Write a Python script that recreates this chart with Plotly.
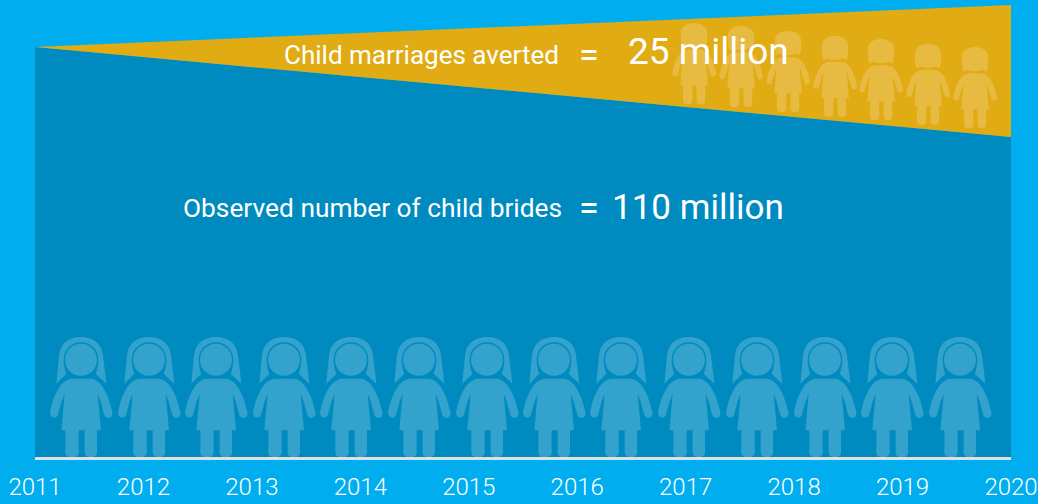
import plotly.graph_objects as go

# --- data ---
years = [2011, 2020]
tick_years = [2011, 2012, 2013, 2014, 2015, 2016, 2017, 2018, 2019, 2020]
observed = [100.0, 78.05]      # top of blue area (2011 = 100)
expected = [100.0, 110.24]     # top of gold area (2011 = 100)
label_averted = "Child marriages averted"
label_observed = "Observed number of child brides"
value_averted = "25 million"
value_observed = "110 million"

# --- layout constants ---
W, H = 1038, 504
L, R, BASE = 35, 1011, 457
PW, PH = R - L, BASE
BG, BLUE, GOLD = "#00AEEF", "#008BC0", "#E1AB13"
FIG = "rgba(255,255,255,0.2)"
FONT = "Roboto"

bride_x = [81, 149, 216, 284, 351, 419, 487, 554, 621, 689, 757, 825, 892, 960]
girl_pos = [(694, 104), (741, 107), (788, 112), (835, 116.7), (881, 120), (928, 124.7), (975, 128)]

def px(x): return (x - L) / PW
def py(y): return (BASE - y) / PH

def build(cmds, ox, oy, s):
    out = []
    for c in cmds:
        if c[0] == "Z":
            out.append("Z")
            continue
        pts = " ".join(f"{s*(x-ox)/3:.2f},{s*(oy-y)/3:.2f}" for x, y in c[1:])
        out.append(c[0] + pts)
    return " ".join(out)

BODY = [
    ("M", (125, 175)), ("L", (180, 175)),
    ("C", (215, 178), (235, 225), (246, 275)),
    ("C", (250, 295), (226, 298), (222, 283)),
    ("C", (215, 260), (210, 235), (202, 222)),
    ("L", (212, 330)), ("L", (200, 330)), ("L", (200, 398)),
    ("C", (200, 415), (163, 415), (163, 398)),
    ("L", (163, 330)), ("L", (145, 330)), ("L", (145, 398)),
    ("C", (145, 415), (105, 415), (105, 398)),
    ("L", (105, 330)), ("L", (93, 330)), ("L", (103, 222)),
    ("C", (95, 235), (90, 260), (83, 283)),
    ("C", (78, 298), (55, 293), (60, 272)),
    ("C", (70, 225), (90, 178), (125, 175)), ("Z",),
]
HEAD = [
    ("M", (104, 118)),
    ("C", (104, 91), (125, 70), (152, 70)),
    ("C", (179, 70), (200, 91), (200, 118)),
    ("C", (200, 145), (179, 166), (152, 166)),
    ("C", (125, 166), (104, 145), (104, 118)), ("Z",),
]
VEIL = [
    ("M", (78, 190)),
    ("C", (82, 150), (84, 120), (87, 100)),
    ("C", (92, 65), (120, 50), (152, 50)),
    ("C", (184, 50), (212, 65), (217, 100)),
    ("C", (220, 120), (224, 150), (228, 190)),
    ("L", (196, 160)),
    ("C", (201, 148), (204, 133), (204, 118)),
    ("C", (204, 89), (181, 66), (152, 66)),
    ("C", (123, 66), (100, 89), (100, 118)),
    ("C", (100, 133), (103, 148), (108, 160)), ("Z",),
]
HAIR = [
    ("M", (485, 140)),
    ("C", (485, 118), (503, 107), (525, 107)),
    ("C", (547, 107), (565, 118), (565, 140)),
    ("C", (565, 155), (563, 170), (560, 180)),
    ("L", (548, 175)),
    ("C", (535, 181), (515, 181), (502, 175)),
    ("L", (490, 180)),
    ("C", (487, 170), (485, 155), (485, 140)), ("Z",),
]

bride_path = " ".join([build(BODY, 152, 410, 1), build(HEAD, 152, 410, 1), build(VEIL, 152, 410, 1)])
girl_path = " ".join([build(BODY, 152, 410, 0.7), build(HAIR, 525, 350, 1)])

def figure_shape(path, x, y):
    return dict(type="path", path=path, xref="paper", yref="paper",
                xsizemode="pixel", ysizemode="pixel", xanchor=px(x), yanchor=py(y),
                fillcolor=FIG, line=dict(width=0), layer="above")

shapes = [figure_shape(bride_path, x, BASE) for x in bride_x]
shapes += [figure_shape(girl_path, x, y) for x, y in girl_pos]

def text(t, x, y, size, anchor="left", weight=400):
    return dict(text=t, x=px(x), y=py(y), xref="paper", yref="paper", showarrow=False,
                xanchor=anchor, yanchor="middle", borderpad=0,
                font=dict(family=FONT, size=size, color="white", weight=weight))

annotations = [
    text(label_averted, 283, 55, 26),
    text("=", 589, 55, 36, anchor="center"),
    text(value_averted, 627, 52, 37),
    text(label_observed, 182, 208, 26.3),
    text("=", 589, 208, 36, anchor="center"),
    text(value_observed, 611, 207, 35),
]

fig = go.Figure()
fig.add_trace(go.Scatter(x=years, y=observed, mode="lines", line=dict(width=0),
                         fill="tozeroy", fillcolor=BLUE, hoverinfo="skip"))
fig.add_trace(go.Scatter(x=years, y=expected, mode="lines", line=dict(width=0),
                         fill="tonexty", fillcolor=GOLD, hoverinfo="skip"))
fig.update_layout(
    width=W, height=H, autosize=False,
    margin=dict(l=L, r=W - R, t=0, b=H - BASE, pad=0),
    paper_bgcolor=BG, plot_bgcolor=BG, showlegend=False,
    shapes=shapes, annotations=annotations,
    xaxis=dict(range=[2011, 2020], tickvals=tick_years, ticktext=[str(y) for y in tick_years],
               showgrid=False, zeroline=False, showline=True, linecolor="#E0E0E0", linewidth=3,
               ticks="", ticklabelstandoff=6,
               tickfont=dict(family=FONT, size=24, color="white", weight=300)),
    yaxis=dict(range=[0, 100 * BASE / 410], visible=False, showgrid=False, zeroline=False),
)
fig.write_html("out.html", config={"displayModeBar": False},
               post_script="document.body.style.margin='0';document.documentElement.style.overflow='hidden';")
